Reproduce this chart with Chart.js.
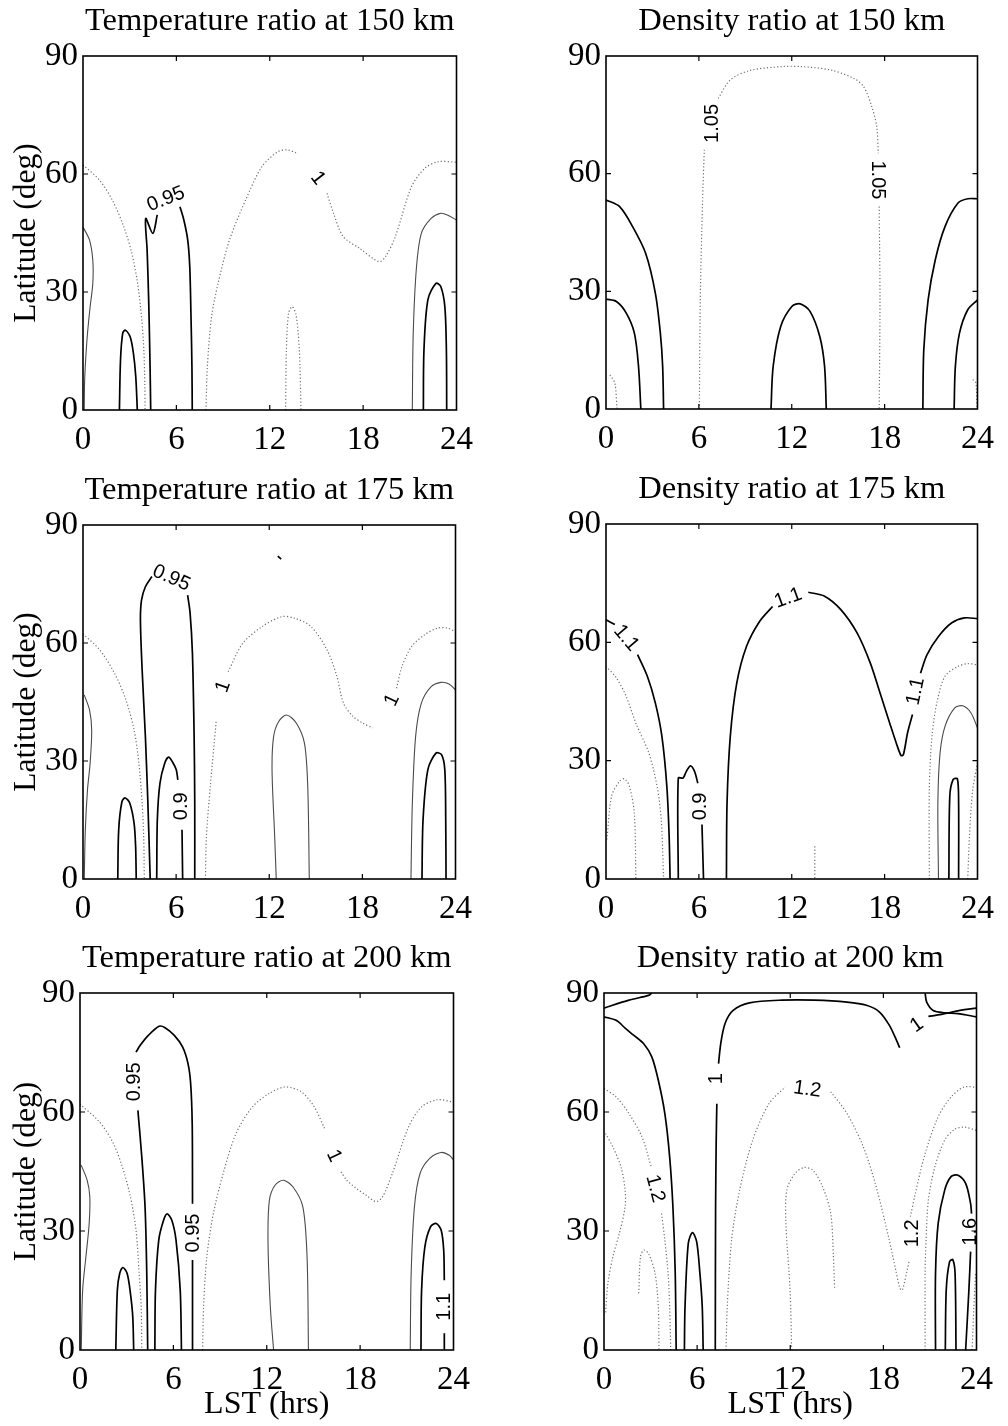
<!DOCTYPE html>
<html>
<head>
<meta charset="utf-8">
<script src="https://cdn.jsdelivr.net/npm/chart.js@4.4.1/dist/chart.umd.min.js"></script>
<style>
  html, body { margin: 0; padding: 0; background: #fff; overflow: hidden; }
  #page { position: relative; width: 1008px; height: 1426px; }
  canvas { position: absolute; }
</style>
</head>
<body>
<div id="page"></div>
<script>
// contour traces, each point is [LST (hrs), latitude (deg)]
// labels are [text, LST, latitude, angle in degrees]

// temperature ratio, 150 km
const temp150Solid = [
  [[2.34,0],[2.41,12.7],[2.55,19.5],[2.72,20.3],[3.03,18.6],[3.24,14.4],[3.39,8.5],[3.49,0]],
  [[4.35,0],[4.31,11],[4.22,28],[4.12,40.7],[4.03,48.7],[4.49,44.9],[4.77,49.6]],
  [[6.23,51.7],[6.48,48.3],[6.73,43.2],[6.86,36.4],[6.94,23.7],[7.0,11],[7.02,0]],
  [[21.87,0],[21.91,15.3],[22.16,28],[22.68,32.2],[22.99,31.4],[23.25,26.3],[23.35,15.3],[23.37,0]]
];
const temp150Thin = [
  [[0,46.5],[0.42,43.2],[0.63,38.1],[0.63,32.2],[0.46,26.3],[0.29,19.5],[0.17,12.7],[0.1,6.8],[0.08,0]],
  [[21.16,0],[21.22,19.5],[21.43,36.4],[21.74,44.9],[22.37,48.7],[22.99,50],[23.41,49.6],[24,48.3]]
];
const temp150Dotted = [
  [[0,62.3],[1.05,58.5],[1.88,53.4],[2.62,46.6],[3.14,39.8],[3.51,32.2],[3.76,23.7],[3.91,15.3],[3.97,6.8],[3.99,0]],
  [[7.9,0],[7.99,11],[8.26,23.7],[8.68,32.2],[9.41,43.2],[10.45,53.4],[11.5,61.9],[12.54,65.7],[13.17,66.1],[13.69,65.4]],
  [[15.68,55.1],[16.1,50],[16.72,44.1],[17.77,41.1],[19.02,37.7],[19.44,39],[20.07,44.1],[21.11,56.8],[21.95,61.4],[22.79,63.1],[24,63]],
  [[13.02,0],[13.07,15.3],[13.21,24.6],[13.44,26.3],[13.69,24.2],[13.9,15.3],[14.01,0]]
];
const temp150Labels = [['0.95',5.33,53.6,-22],['1',15.09,58.9,52]];

// density ratio, 150 km
const dens150Solid = [
  [[0,53.3],[0.88,51.6],[1.72,46.5],[2.56,39.7],[3.19,29.5],[3.51,19.4],[3.66,10.9],[3.72,0]],
  [[0,28],[0.67,27.4],[1.3,24.5],[1.83,19.4],[2.1,10.9],[2.25,0]],
  [[10.66,0],[10.8,10.9],[11.29,21.1],[12.02,26.2],[12.55,26.8],[13.18,24.9],[13.81,18.5],[14.12,10.9],[14.23,0]],
  [[20.47,0],[20.53,15.1],[20.81,27.8],[21.27,38],[21.9,46.5],[22.74,52.5],[23.37,53.6],[24,53.6]],
  [[22.49,0],[22.57,10.9],[22.84,19.4],[23.37,25.3],[24,27.8]]
];
const dens150Thin = [];
const dens150Dotted = [
  [[6.03,0],[6.09,27.8],[6.24,53.3],[6.35,66.1]],
  [[7.25,79.2],[8.03,83.9],[9.29,86.3],[11.39,87.3],[12.65,87.3],[14.54,86.4],[16.01,84.3],[16.64,82.2],[17.17,77.1],[17.49,72],[17.59,65.2]],
  [[17.65,51.6],[17.7,27.8],[17.65,0]],
  [[0.25,8.7],[0.57,6.6],[0.71,0]],
  [[23.69,7.5],[23.9,6.6],[23.95,0]]
];
const dens150Labels = [['1.05',6.87,72.8,-90],['1.05',17.55,58.4,90]];

// temperature ratio, 175 km
const temp175Solid = [
  [[2.24,0],[2.3,12.5],[2.51,19.7],[2.72,20.6],[3.01,19.3],[3.29,14.2],[3.39,8.3],[3.43,0]],
  [[4.33,0],[4.18,19.3],[4.02,36.2],[3.81,53.2],[3.7,65.9],[3.77,70.9],[4.02,74.3],[4.44,76.9]],
  [[6.74,72.2],[6.9,67.6],[7.05,57.4],[7.16,36.2],[7.2,19.3],[7.2,0]],
  [[4.75,0],[4.79,15.1],[4.96,24.4],[5.27,29.5],[5.52,31],[5.8,29.5],[6.01,27.8],[6.11,25.2]],
  [[6.38,12.5],[6.42,0]],
  [[21.84,0],[21.91,15.1],[22.22,27.8],[22.74,32],[23.1,31.6],[23.31,27.8],[23.37,15.1],[23.39,0]],
  [[12.55,82.1],[12.77,81.3]]
];
const temp175Thin = [
  [[0.08,46.8],[0.42,43],[0.56,37.9],[0.46,29.5],[0.29,22.7],[0.15,12.5],[0.08,0]],
  [[12.45,0],[12.35,10.8],[12.18,27.8],[12.28,36.2],[12.6,40],[13.12,41.7],[13.75,39.6],[14.27,34.5],[14.48,23.5],[14.58,0]],
  [[21.13,0],[21.22,19.3],[21.43,36.2],[21.8,44.7],[22.43,48.9],[23.06,50],[23.58,49.6],[24,48.1]]
];
const temp175Dotted = [
  [[0,62.3],[1.09,58.2],[2.03,52.3],[2.76,45.6],[3.29,37.9],[3.6,29.5],[3.81,19.3],[3.91,10.8],[3.95,0]],
  [[7.89,0],[7.95,10.8],[8.2,23.5],[8.58,40]],
  [[9.35,52.7],[10.29,59.9],[11.55,64.2],[12.81,66.7],[13.64,66.3],[14.69,64.2],[15.73,58.2],[16.36,51.5],[16.78,44.7],[17.41,41.3],[18.04,39.6],[18.66,38.4]],
  [[20.2,48.5],[20.55,54],[21.17,59.1],[22.01,62.1],[22.85,63.8],[23.48,63.8],[24,62.9]]
];
const temp175Labels = [['0.95',5.69,76.5,24],['0.9',6.32,18.5,-90],['1',9.04,48.9,-70],['1',19.92,45.5,-65]];

// density ratio, 175 km
const dens175Solid = [
  [[0,65.7],[0.57,64.5]],
  [[2.04,56.9],[2.67,51.4],[3.19,44.6],[3.61,36.2],[3.93,23.5],[4.08,10.8],[4.14,0]],
  [[4.67,0],[4.67,25.6],[4.98,25.6],[5.19,27.3],[5.46,28.7],[5.72,27.3],[5.93,24.3]],
  [[6.2,13.8],[6.3,0]],
  [[7.78,0],[7.82,19.3],[8.03,36.2],[8.45,49.7],[9.08,59],[9.92,65.3],[10.76,69.1]],
  [[13.07,72.7],[14.12,71.7],[15.17,68.3],[16.22,62.4],[17.07,54.8],[17.7,47.2],[18.33,39.5],[18.75,34.5],[19.06,31.3],[19.21,31.5],[19.48,37],[19.8,41.7]],
  [[20.32,52.2],[20.74,56.9],[21.48,61.5],[22.32,64.9],[23.16,66.2],[24,66]],
  [[22.15,0],[22.21,21],[22.42,25.2],[22.7,25.4],[22.78,19.3],[22.78,0]]
];
const dens175Thin = [
  [[21.48,0],[21.44,19.3],[21.58,31.9],[21.9,38.7],[22.53,43.4],[23.05,43.9],[23.58,42.1],[24,38.3]]
];
const dens175Dotted = [
  [[0,53.9],[0.67,51],[1.3,46.3],[1.93,39.5],[2.77,31.9],[3.3,23.5],[3.57,15],[3.72,0]],
  [[0.06,10],[0.36,21],[0.88,24.8],[1.2,25.4],[1.51,23.5],[1.83,16.7],[1.93,0]],
  [[20.89,0],[20.89,23.5],[21.06,36.2],[21.37,44.6],[21.9,51.4],[22.74,53.9],[23.37,54.6],[24,54.3]],
  [[23.37,0],[23.48,10.8],[23.69,22.6],[24,29.4]],
  [[13.49,8.3],[13.49,0]]
];
const dens175Labels = [['1.1',1.3,61.1,50],['0.9',6.09,18.4,-90],['1.1',11.77,71.2,-20],['1.1',20.01,47.6,-78]];

// temperature ratio, 200 km
const temp200Solid = [
  [[2.3,0],[2.4,15.1],[2.55,19.3],[2.76,20.8],[3.03,19.3],[3.24,14.3],[3.39,8.4],[3.45,0]],
  [[4.35,0],[4.29,19.3],[4.18,36.1],[3.97,48.7],[3.72,60.4]],
  [[3.6,75.1],[3.87,76.8],[4.39,79.3],[5.08,81.6],[5.44,81.3],[6.06,79.3],[6.59,76.4],[6.94,72.2],[7.11,67.2],[7.21,57.1],[7.23,36.9]],
  [[7.23,22.7],[7.23,0]],
  [[4.81,0],[4.85,15.1],[5.06,27.7],[5.37,32.7],[5.6,34.3],[5.9,32.7],[6.17,27.7],[6.44,15.1],[6.52,0]],
  [[21.91,0],[21.95,15.1],[22.16,26],[22.53,31.1],[22.89,31.9],[23.21,30.2],[23.37,25.2],[23.41,17.6]],
  [[23.41,4.2],[23.41,0]]
];
const temp200Thin = [
  [[0.08,46.6],[0.46,42.8],[0.63,38.6],[0.59,31.9],[0.38,23.5],[0.17,15.1],[0.08,0]],
  [[12.44,0],[12.23,10.9],[12.08,27.7],[12.17,37.8],[12.54,41.6],[13.07,42.8],[13.69,41.1],[14.32,36.1],[14.59,23.5],[14.68,0]],
  [[21.22,0],[21.28,19.3],[21.49,36.1],[21.85,44.5],[22.47,48.3],[23.21,49.8],[23.73,49.1],[24,47.9]]
];
const temp200Dotted = [
  [[0,62],[1.25,57.5],[2.09,52.5],[2.72,46.2],[3.24,38.6],[3.6,30.2],[3.8,19.3],[3.93,10.9],[3.97,0]],
  [[7.88,0],[7.94,10.9],[8.15,23.5],[8.57,34.4],[9.2,44.5],[10.03,54.6],[11.08,61.3],[12.13,64.6],[13.17,66.3],[14.22,65.1],[15.05,61.3],[15.72,55.8]],
  [[16.77,44.9],[17.14,42.8],[17.77,40.7],[18.4,39],[19.02,37.4],[19.44,38.6],[20.07,44.5],[21.11,56.2],[21.95,61.3],[23,63.1],[24,62.5]]
];
const temp200Labels = [['0.95',3.51,67.6,-90],['0.95',7.28,29.5,-90],['1',16.31,48.9,65],['1.1',23.41,10.9,-90]];

// density ratio, 200 km
const dens200Solid = [
  [[0,86.2],[1.61,88.2],[2.87,89.4],[3.08,90]],
  [[0,84],[0.78,83.1],[1.4,81],[1.93,79.3],[2.56,77.2],[3.08,73.9],[3.5,68],[3.92,59.6],[4.23,48.7],[4.44,36.1],[4.59,19.3],[4.65,0]],
  [[7.17,0],[7.19,36.1],[7.23,52.9],[7.27,62.1]],
  [[7.38,72.2],[7.52,77.2],[7.8,82.3],[8.32,85.6],[9.37,87.5],[11.47,88.2],[13.56,88.2],[15.66,87.7],[16.91,86.9],[17.75,85.2],[18.38,81.9],[18.8,78.5],[19.05,76.2]],
  [[20.69,90],[20.79,87.7],[21.21,85.6],[21.95,85],[22.79,84.8],[24,84]],
  [[20.9,84.1],[21.74,84.6],[22.79,85.5],[24,86.2]],
  [[5.18,0],[5.22,10.9],[5.43,26.9],[5.7,29.6],[5.97,27.3],[6.18,19.3],[6.33,10.9],[6.39,0]],
  [[21.36,0],[21.36,19.3],[21.53,31.9],[21.95,40.3],[22.36,43.7],[22.78,44.1],[23.3,42],[23.62,36.9],[23.68,34.4]],
  [[23.62,24.8],[23.51,15.1],[23.3,0]],
  [[21.99,0],[22.05,15.1],[22.26,22.2],[22.47,22.8],[22.62,19.3],[22.68,0]]
];
const dens200Thin = [];
const dens200Dotted = [
  [[0,65.9],[0.78,63.8],[1.61,59.6],[2.45,53.7],[3.04,46.2]],
  [[3.71,34.4],[3.92,27.7],[4.13,19.3],[4.23,10.9],[4.3,0]],
  [[0.1,54.6],[0.57,51.2],[1.09,46.2],[1.36,40.3],[1.36,36.1],[0.99,29.4],[0.57,23.5],[0.25,16.8],[0.1,9.2]],
  [[2.24,14.3],[2.35,23.5],[2.56,25.2],[2.87,24.3],[3.29,19.3],[3.5,10.9],[3.54,0]],
  [[7.86,0],[7.94,10.9],[8.22,27.7],[8.74,40.3],[9.58,52.9],[10.63,62.1],[11.67,66.3]],
  [[14.61,65.1],[15.66,59.6],[16.71,51.2],[17.54,41.1],[18.38,27.7],[18.8,20.1],[19.07,15.5],[19.22,15.1],[19.53,20.1],[19.68,22.7]],
  [[19.74,33.6],[20.06,39.5],[20.69,49.5],[21.53,58.8],[22.36,63.8],[23.2,66.3],[24,66.2]],
  [[12.09,0],[11.99,15.1],[11.72,31.9],[11.78,40.3],[12.3,44.5],[12.89,46],[13.46,45.3],[14.09,41.1],[14.61,34.4],[14.78,23.5],[14.86,15.5]],
  [[20.69,0],[20.69,20.1],[20.75,27.7],[20.9,37.8],[21.32,46.2],[21.95,52.9],[22.58,55.6],[23.2,56.2],[24,55.4]],
  [[23.72,0],[23.83,10.9],[23.94,19.3]]
];
const dens200Labels = [['1',7.27,68.4,-90],['1',20.16,81.9,-35],['1.2',3.29,40.7,75],['1.2',13.1,65.7,8],['1.2',19.85,29.4,-90],['1.6',23.62,29.8,-90]];

const lstTicks = [0, 6, 12, 18, 24];
const latTicks = [0, 30, 60, 90];

const serif = "'Liberation Serif', 'Times New Roman', serif";

const lineStyles = {
  solid:  { borderColor: '#000', borderWidth: 1.7, borderDash: [] },
  thin:   { borderColor: '#4a4a4a', borderWidth: 1.1, borderDash: [] },
  dotted: { borderColor: '#707070', borderWidth: 1.2, borderDash: [1.2, 2.2] }
};

function traces(list, kind) {
  return list.map(pts => Object.assign({
    data: pts.map(([x, y]) => ({ x, y })),
    showLine: true,
    pointRadius: 0,
    tension: 0.3,
    fill: false
  }, lineStyles[kind]));
}

// box outline plus MATLAB-style inward ticks on all four sides
const framePlugin = {
  id: 'frame',
  afterDatasetsDraw(chart) {
    const { ctx, chartArea: a, scales: { x, y } } = chart;
    ctx.save();
    ctx.strokeStyle = '#000';
    ctx.lineWidth = 1.6;
    ctx.strokeRect(a.left, a.top, a.right - a.left, a.bottom - a.top);
    ctx.lineWidth = 1.2;
    ctx.beginPath();
    const len = 5;
    x.ticks.forEach(t => {
      if (t.value <= x.min || t.value >= x.max) return;
      const px = x.getPixelForValue(t.value);
      ctx.moveTo(px, a.bottom); ctx.lineTo(px, a.bottom - len);
      ctx.moveTo(px, a.top); ctx.lineTo(px, a.top + len);
    });
    y.ticks.forEach(t => {
      if (t.value <= y.min || t.value >= y.max) return;
      const py = y.getPixelForValue(t.value);
      ctx.moveTo(a.left, py); ctx.lineTo(a.left + len, py);
      ctx.moveTo(a.right, py); ctx.lineTo(a.right - len, py);
    });
    ctx.stroke();
    ctx.restore();
  }
};

// clabel-style text sitting in the gaps of the contour lines
function labelPlugin(items) {
  return {
    id: 'clabels',
    afterDatasetsDraw(chart) {
      const { ctx, scales: { x, y } } = chart;
      ctx.save();
      ctx.fillStyle = '#000';
      ctx.font = "20px 'Liberation Sans', Arial, sans-serif";
      ctx.textAlign = 'center';
      ctx.textBaseline = 'middle';
      items.forEach(([text, lx, ly, ang]) => {
        ctx.save();
        ctx.translate(x.getPixelForValue(lx), y.getPixelForValue(ly));
        ctx.rotate(ang * Math.PI / 180);
        ctx.fillText(text, 0, 0);
        ctx.restore();
      });
      ctx.restore();
    }
  };
}

const panels = [
  { title: 'Temperature ratio at 150 km', solid: temp150Solid, thin: temp150Thin, dotted: temp150Dotted, labels: temp150Labels, box: [83, 56, 466, 410], left: 0, yTitle: true, xTitle: false },
  { title: 'Density ratio at 150 km', solid: dens150Solid, thin: dens150Thin, dotted: dens150Dotted, labels: dens150Labels, box: [606, 56, 987, 409], left: 520, yTitle: false, xTitle: false },
  { title: 'Temperature ratio at 175 km', solid: temp175Solid, thin: temp175Thin, dotted: temp175Dotted, labels: temp175Labels, box: [83, 525, 465, 879], left: 0, yTitle: true, xTitle: false },
  { title: 'Density ratio at 175 km', solid: dens175Solid, thin: dens175Thin, dotted: dens175Dotted, labels: dens175Labels, box: [606, 524, 987, 879], left: 520, yTitle: false, xTitle: false },
  { title: 'Temperature ratio at 200 km', solid: temp200Solid, thin: temp200Thin, dotted: temp200Dotted, labels: temp200Labels, box: [80, 993, 463, 1350], left: 0, yTitle: true, xTitle: true },
  { title: 'Density ratio at 200 km', solid: dens200Solid, thin: dens200Thin, dotted: dens200Dotted, labels: dens200Labels, box: [604, 993, 986, 1350], left: 520, yTitle: false, xTitle: true }
];

const page = document.getElementById('page');

panels.forEach(p => {
  const [bl, bt, br, bb] = p.box;
  const titleSize = 32.5;
  const topH = 54, padRight = 18;
  const xAxisH = p.xTitle ? 74 : 50;
  const yAxisW = bl - p.left;

  const cv = document.createElement('canvas');
  cv.width = br + padRight - p.left;
  cv.height = topH + (bb - bt) + xAxisH;
  cv.style.left = p.left + 'px';
  cv.style.top = (bt - topH) + 'px';
  page.appendChild(cv);

  new Chart(cv.getContext('2d'), {
    type: 'scatter',
    data: {
      datasets: [
        ...traces(p.dotted, 'dotted'),
        ...traces(p.thin, 'thin'),
        ...traces(p.solid, 'solid')
      ]
    },
    options: {
      responsive: false,
      animation: false,
      events: [],
      layout: { padding: { left: 0, top: 0, right: padRight, bottom: 0 } },
      plugins: {
        legend: { display: false },
        tooltip: { enabled: false },
        title: {
          display: true,
          text: p.title,
          fullSize: false,
          color: '#000',
          font: { family: serif, size: titleSize, weight: 'normal', lineHeight: 1.2 },
          padding: { top: 0, bottom: topH - titleSize * 1.2 }
        }
      },
      scales: {
        x: {
          type: 'linear',
          min: 0, max: 24,
          afterFit(s) { s.height = xAxisH; },
          afterBuildTicks(s) { s.ticks = lstTicks.map(v => ({ value: v })); },
          grid: { display: false, drawTicks: false },
          border: { display: false },
          ticks: { padding: 11, color: '#000', maxRotation: 0, autoSkip: false,
                   font: { family: serif, size: 33 } },
          title: { display: p.xTitle, text: 'LST (hrs)', color: '#000',
                   font: { family: serif, size: 32 }, padding: 0 }
        },
        y: {
          type: 'linear',
          min: 0, max: 90,
          afterFit(s) { s.width = yAxisW; },
          afterBuildTicks(s) { s.ticks = latTicks.map(v => ({ value: v })); },
          grid: { display: false, drawTicks: false },
          border: { display: false },
          ticks: { padding: 5, color: '#000', autoSkip: false,
                   font: { family: serif, size: 33 } },
          title: { display: p.yTitle, text: 'Latitude (deg)', color: '#000',
                   font: { family: serif, size: 31.5 }, padding: { top: 8, bottom: 0 } }
        }
      }
    },
    plugins: [framePlugin, labelPlugin(p.labels)]
  });
});
</script>
</body>
</html>
